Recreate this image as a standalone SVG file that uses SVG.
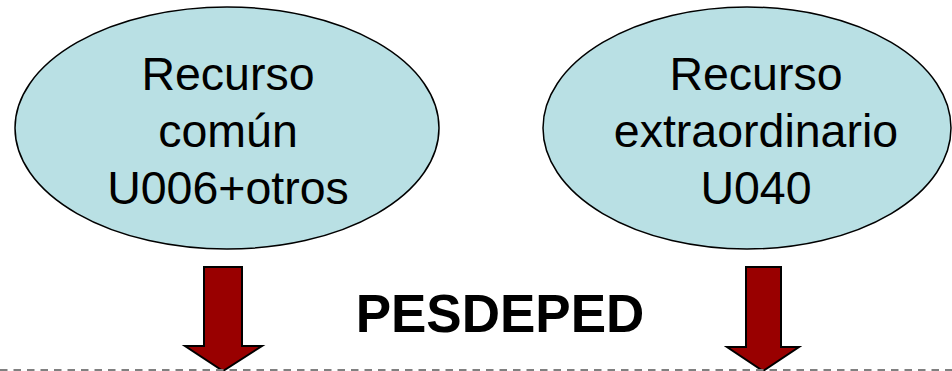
<svg xmlns="http://www.w3.org/2000/svg" width="952" height="371" viewBox="0 0 952 371">
<style>
.node ellipse{fill:#b9e0e4;stroke:#000;stroke-width:1.5}
.lbl{font-family:"Liberation Sans",Arial,sans-serif;font-size:46.5px;fill:#000;text-anchor:middle}
.title{font-family:"Liberation Sans",Arial,sans-serif;font-size:53px;font-weight:bold;fill:#000;text-anchor:middle}
.arrow{fill:#990000;stroke:#000;stroke-width:2;stroke-linejoin:miter}
</style>
<rect width="952" height="371" fill="#fff"/>
<g id="node-comun" class="node">
<ellipse cx="227" cy="128" rx="212" ry="121"/>
<text class="lbl" x="228" y="90">Recurso</text>
<text class="lbl" x="228" y="147">común</text>
<text class="lbl" x="228" y="204">U006+otros</text>
</g>
<g id="node-extra" class="node">
<ellipse cx="747" cy="128" rx="204" ry="121"/>
<text class="lbl" x="756" y="90">Recurso</text>
<text class="lbl" x="756" y="147">extraordinario</text>
<text class="lbl" x="756" y="204">U040</text>
</g>
<g id="title">
<text class="title" x="500" y="332">PESDEPED</text>
</g>
<g id="connectors">
<polygon class="arrow" points="204,267 242,267 242,346 262,346 223,371 185,346 204,346"/>
<polygon class="arrow" points="746,267 781,267 781,347 799,347 763,371 727,347 746,347"/>
<line x1="0" y1="370" x2="952" y2="370" stroke="#808080" stroke-width="2" stroke-dasharray="7.5,6"/>
</g>
</svg>
